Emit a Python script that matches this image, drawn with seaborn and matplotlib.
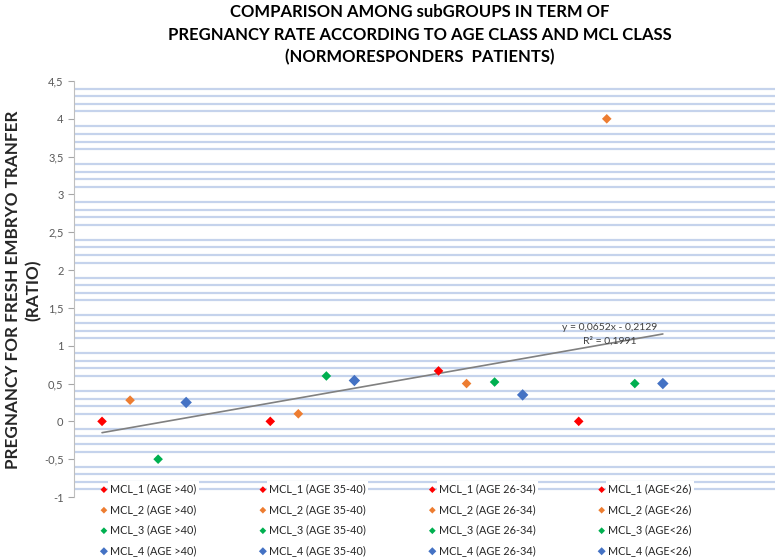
import numpy as np
import pandas as pd
import matplotlib
matplotlib.use("Agg")
import matplotlib.pyplot as plt
import seaborn as sns

# Data
age_groups = ["AGE >40", "AGE 35-40", "AGE 26-34", "AGE<26"]
mcl_classes = ["MCL_1", "MCL_2", "MCL_3", "MCL_4"]
x_pos = [1, 2, 3, 4, 7, 8, 9, 10, 13, 14, 15, 16, 18, 19, 20, 21]
ratio = [0.0, 0.28, -0.5, 0.25,
         0.0, 0.10, 0.60, 0.54,
         0.667, 0.50, 0.52, 0.35,
         0.0, 4.0, 0.50, 0.50]
y_ticks = [-1, -0.5, 0, 0.5, 1, 1.5, 2, 2.5, 3, 3.5, 4, 4.5]
y_tick_labels = ["-1", "-0,5", "0", "0,5", "1", "1,5", "2", "2,5", "3", "3,5", "4", "4,5"]
mcl_colors = ["#FF0000", "#ED7D31", "#00B050", "#4472C4"]

labels = [f"{m} ({a})" for a in age_groups for m in mcl_classes]
df = pd.DataFrame({"x": x_pos, "ratio": ratio, "label": labels,
                   "mcl": [m for a in age_groups for m in mcl_classes]})
palette = {lab: mcl_colors[i % 4] for i, lab in enumerate(labels)}

sns.set_style("white")
plt.rcParams["font.family"] = ["Lato", "DejaVu Sans"]

fig = plt.figure(figsize=(7.78, 5.57), dpi=100)
ax = fig.add_axes([74 / 778, 1 - 497 / 557, 701 / 778, 416 / 557])

# minor gridlines every 0.1 (Excel style, none on the major values)
minor = [v for v in np.round(np.arange(-0.9, 4.5, 0.1), 1) if abs(v * 2 - round(v * 2)) > 1e-6]
ax.set_yticks(minor, minor=True)
ax.grid(True, which="minor", axis="y", color="#C5D3EC", lw=1.6)
ax.grid(False, which="major")
ax.set_axisbelow(True)

# trendline (linear fit)
sns.regplot(data=df, x="x", y="ratio", scatter=False, ci=None, truncate=True,
            line_kws={"color": "#808080", "lw": 1.2}, ax=ax)

sizes = {m: (34 if m == "MCL_4" else 24) for m in mcl_classes}
for lab, sub in df.groupby("label", sort=False):
    sns.scatterplot(data=sub, x="x", y="ratio", color=palette[lab], marker="D",
                    s=sizes[sub["mcl"].iloc[0]], edgecolor="none", label=lab,
                    ax=ax, zorder=3, legend=True)

ax.text(19.1, 1.24, "y = 0,0652x - 0,2129", ha="center", va="center",
        fontsize=7.5, color="#404040")
ax.text(19.1, 1.06, "R² = 0,1991", ha="center", va="center",
        fontsize=7.5, color="#404040")

ax.set_xlim(0, 25)
ax.set_ylim(-1, 4.5)
ax.set_xticks([])
ax.set_yticks(y_ticks)
ax.set_yticklabels(y_tick_labels)
ax.tick_params(axis="y", which="major", length=4, color="#A6A6A6",
               labelsize=8, labelcolor="#595959", left=True)
ax.tick_params(axis="y", which="minor", length=0)
for s in ["top", "right", "bottom"]:
    ax.spines[s].set_visible(False)
ax.spines["left"].set_color("#BFBFBF")
ax.set_xlabel("")
ax.set_ylabel("")

handles, labs = ax.get_legend_handles_labels()
if ax.legend_:
    ax.legend_.remove()
leg = fig.legend(handles, labs, ncol=4, loc="upper left",
                 bbox_to_anchor=(92 / 778, 1 - 477 / 557), frameon=False,
                 fontsize=7.8, handletextpad=0.1, handlelength=1.0,
                 columnspacing=5.6, labelspacing=0.88, markerscale=0.7,
                 borderaxespad=0.2)
for t in leg.get_texts():
    t.set_color("#262626")
    t.set_bbox(dict(facecolor="white", edgecolor="none", pad=1.5))

fig.text(420 / 778, 1 - 35 / 557,
         "COMPARISON AMONG subGROUPS IN TERM OF\n"
         "PREGNANCY RATE ACCORDING TO AGE CLASS AND MCL CLASS\n"
         "(NORMORESPONDERS  PATIENTS)",
         ha="center", va="center", fontsize=12, fontweight="bold",
         linespacing=1.5, color="black")
fig.text(23 / 778, 1 - 290 / 557,
         "PREGNANCY FOR FRESH EMBRYO TRANFER\n(RATIO)",
         ha="center", va="center", rotation=90, fontsize=12.3,
         fontweight="bold", linespacing=1.3)

fig.savefig("out.png", dpi=100)
